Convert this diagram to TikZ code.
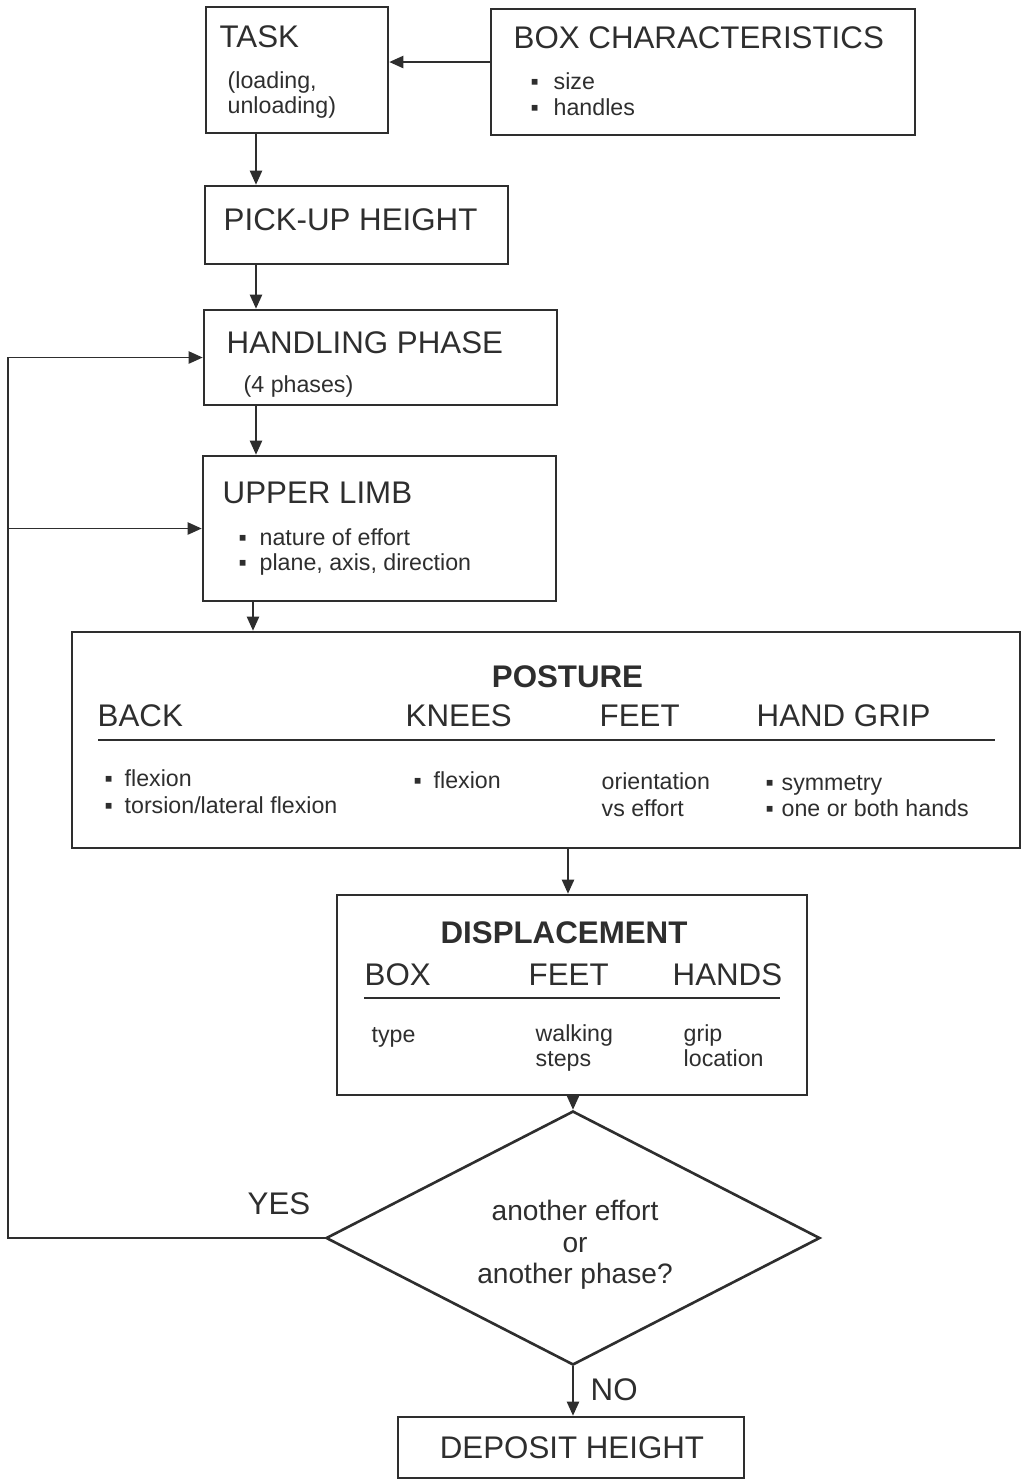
\documentclass[tikz,border=0pt]{standalone}
\usepackage{fontspec}
\setmainfont{Liberation Sans}
\usetikzlibrary{fit,arrows.meta,shapes.geometric}
\definecolor{ink}{HTML}{2E2E2E}
\newcommand{\bul}[1][2.1mm]{\makebox[#1][l]{▪}}
\tikzset{
    box/.style={draw=ink, line width=0.75pt, inner sep=0pt},
    hd/.style={font=\fontsize{8.9}{10}\selectfont, text=ink, inner sep=0pt, anchor=base west},
    sm/.style={font=\fontsize{6.6}{7.5}\selectfont, text=ink, inner sep=0pt, anchor=base west},
    link/.style={draw=ink, line width=0.45pt, -{Triangle[length=4pt,width=3.5pt]}},
}
\begin{document}
\begin{tikzpicture}[x={1mm}, y={-1mm}]
    \useasboundingbox (0,0) rectangle (102.7,148.0);
    % boxes
    \node[box, fit={(20.6,0.7) (38.8,13.3)}] (task) {};
    \node[box, fit={(49.1,0.9) (91.5,13.5)}] (boxchar) {};
    \node[box, fit={(20.5,18.6) (50.8,26.4)}] (pickup) {};
    \node[box, fit={(20.4,31.0) (55.7,40.5)}] (handling) {};
    \node[box, fit={(20.3,45.6) (55.6,60.1)}] (upper) {};
    \node[box, fit={(7.2,63.2) (102.0,84.8)}] (posture) {};
    \node[box, fit={(33.7,89.5) (80.7,109.5)}] (displ) {};
    \node[box, fit={(39.8,141.7) (74.4,147.8)}] (deposit) {};
    \node[box, shape=diamond, minimum width=49.4mm, minimum height=25.4mm] (dec) at (57.3,123.8) {};
    % texts
    \node[hd] (tasklbl) at (21.9,4.7) {TASK};
    \node[sm] (task1) at (22.7,8.8) {(loading,};
    \node[sm] (task2) at (22.7,11.3) {unloading)};
    \node[hd] (boxlbl) at (51.3,4.8) {BOX CHARACTERISTICS};
    \foreach \txt [count=\k] in {size, handles}
        \node[sm] (bc\k) at (53.0,6.3+2.6*\k) {\bul[2.3mm]\txt};
    \node[hd] (picklbl) at (22.3,23.0) {PICK-UP HEIGHT};
    \node[hd] (handlbl) at (22.6,35.3) {HANDLING PHASE};
    \node[sm] (hand1) at (24.3,39.2) {(4 phases)};
    \node[hd] (upperlbl) at (22.2,50.3) {UPPER LIMB};
    \foreach \txt [count=\k] in {{nature of effort}, {plane, axis, direction}}
        \node[sm] (ul\k) at (23.8,52.0+2.5*\k) {\bul\txt};
    \node[hd, anchor=base, font=\fontsize{8.9}{10}\selectfont\bfseries] (postlbl) at (56.75,68.7) {POSTURE};
    \foreach \x/\lbl [count=\k] in {9.7/BACK, 40.5/KNEES, 59.9/FEET, 75.6/HAND GRIP}
        \node[hd] (ph\k) at (\x,72.6) {\lbl};
    \draw[ink, line width=0.6pt] (9.8,74.0) -- (99.5,74.0);
    \node[sm] (back1) at (10.4,78.6) {\bul[2.0mm]flexion};
    \node[sm] (back2) at (10.4,81.3) {\bul[2.0mm]torsion/lateral flexion};
    \node[sm] (knee1) at (41.3,78.8) {\bul[2.0mm]flexion};
    \node[sm] (feet1) at (60.1,78.9) {orientation};
    \node[sm] (feet2) at (60.1,81.6) {vs effort};
    \node[sm] (grip1) at (76.5,79.0) {\bul[1.6mm]symmetry};
    \node[sm] (grip2) at (76.5,81.6) {\bul[1.6mm]one or both hands};
    \node[hd, anchor=base, font=\fontsize{8.9}{10}\selectfont\bfseries] (displlbl) at (56.4,94.3) {DISPLACEMENT};
    \foreach \x/\lbl [count=\k] in {36.4/BOX, 52.8/FEET, 67.2/HANDS}
        \node[hd] (dh\k) at (\x,98.5) {\lbl};
    \draw[ink, line width=0.6pt] (36.4,99.8) -- (78.0,99.8);
    \node[sm] (box1) at (37.1,104.2) {type};
    \node[sm] (walk1) at (53.5,104.1) {walking};
    \node[sm] (walk2) at (53.5,106.6) {steps};
    \node[sm] (hnd1) at (68.3,104.1) {grip};
    \node[sm] (hnd2) at (68.3,106.6) {location};
    \node[align=center, text=ink, inner sep=0pt, font=\fontsize{8}{9}\selectfont] (dectxt) at (57.5,124.5)
        {another effort\\or\\another phase?};
    \node[hd, anchor=base] (deplbl) at (57.2,145.8) {DEPOSIT HEIGHT};
    \node[hd] (yes) at (24.7,121.4) {YES};
    \node[hd] (no) at (59.0,140.0) {NO};
    % connectors
    \coordinate (colA) at (25.6,0);
    \coordinate (colB) at (25.3,0);
    \coordinate (colC) at (56.8,0);
    \coordinate (loopc) at (0.8,0);
    \coordinate (rowA) at (0,6.2);
    \draw[link] (boxchar.west |- rowA) -- (task.east |- rowA);
    \draw[link] (task.south -| colA) -- (pickup.north -| colA);
    \draw[link] (pickup.south -| colA) -- (handling.north -| colA);
    \draw[link] (handling.south -| colA) -- (upper.north -| colA);
    \draw[link] (upper.south -| colB) -- (posture.north -| colB);
    \draw[link] (posture.south -| colC) -- (displ.north -| colC);
    \draw[link] (displ.south -| dec.north) -- (dec.north);
    \draw[link] (dec.south) -- (dec.south |- deposit.north);
    \draw[link] (dec.west) -| (loopc |- handling.west) -- (handling.west);
    \draw[link] (loopc |- upper.west) -- (upper.west);
\end{tikzpicture}
\end{document}
